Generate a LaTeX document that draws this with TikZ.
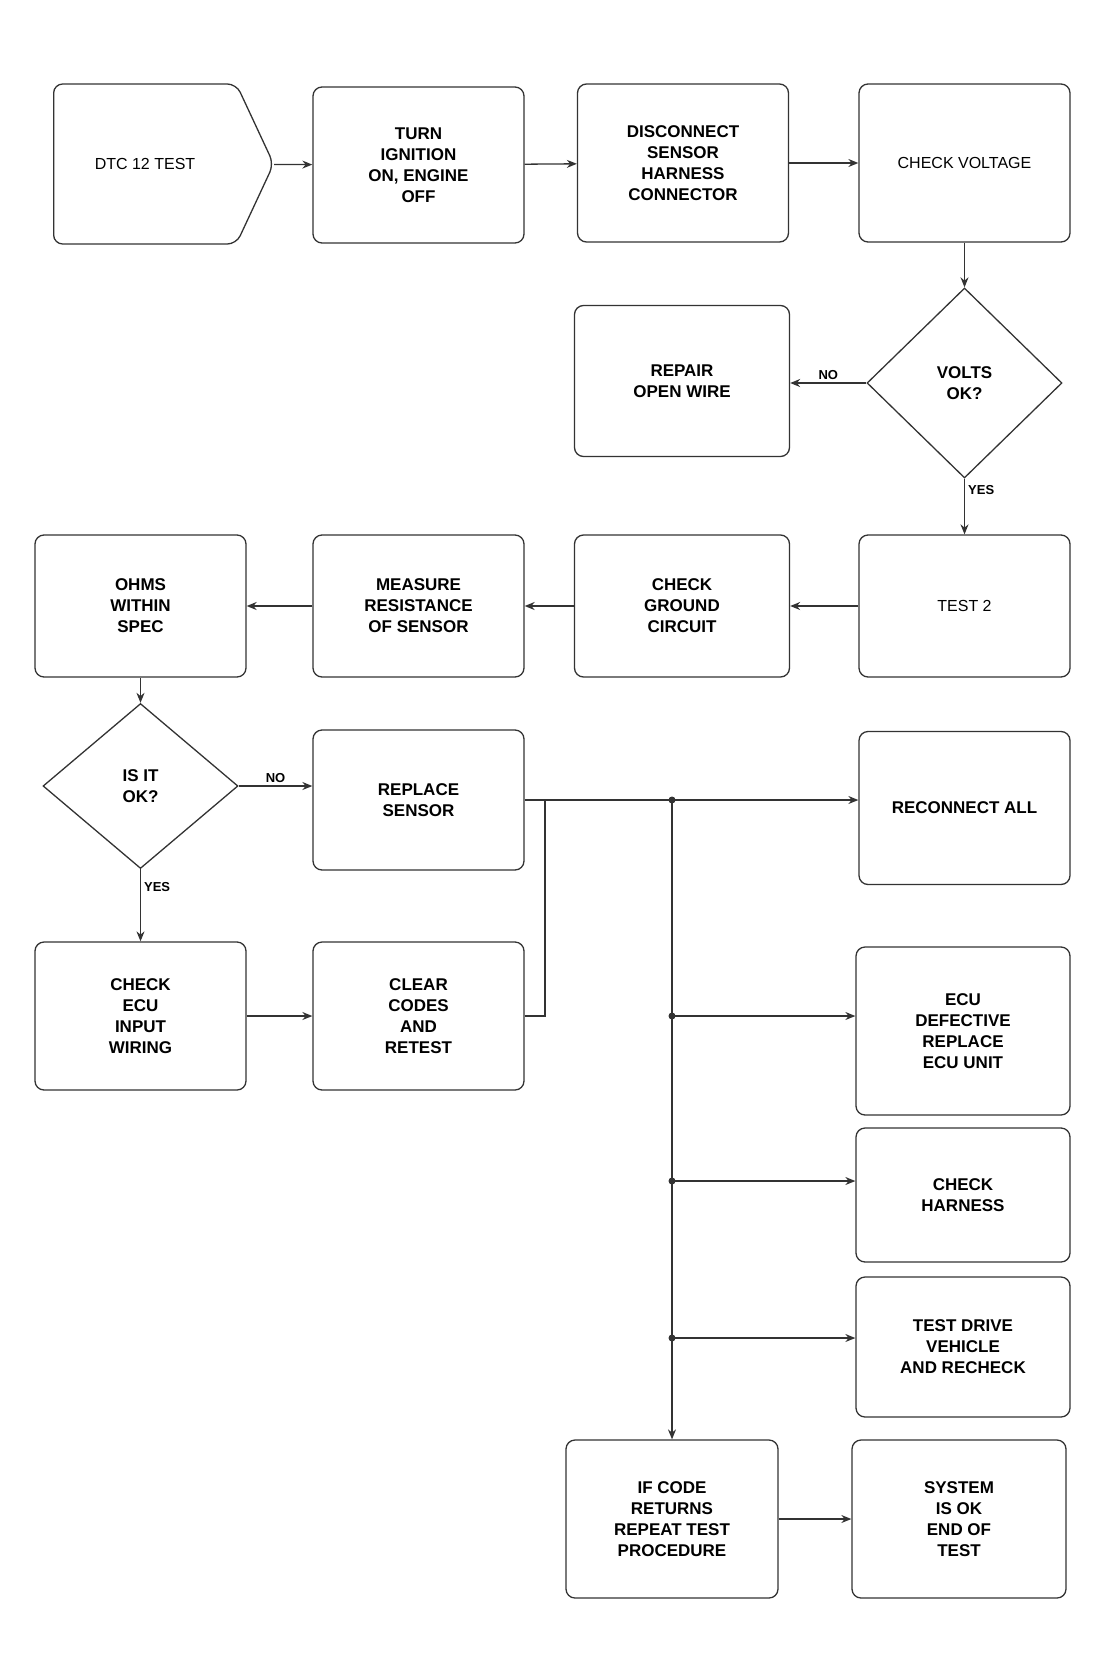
\documentclass[tikz,border=0pt]{standalone}
\usepackage{fontspec}
\setmainfont{Liberation Sans}
\usetikzlibrary{shapes.geometric,shapes.symbols,arrows.meta}
\tikzset{
  ln/.style={draw=black!80, line width=1.3pt},
  box/.style={ln, rounded corners=9pt, align=center, fill=white,
    font=\bfseries\fontsize{17}{21}\selectfont, inner sep=4pt,
    minimum width=211pt, minimum height=150pt},
  startbox/.style={ln, signal, signal to=east, signal pointer angle=130,
    rounded corners=9pt, align=center, fill=white, font=\fontsize{16}{19}\selectfont,
    minimum width=220pt, minimum height=160pt, inner sep=4pt},
  dia/.style={ln, diamond, align=center, fill=white, inner sep=0pt,
    font=\bfseries\fontsize{17}{21}\selectfont},
  conn/.style={ln, -{Stealth[length=10pt,width=8pt]}},
  lbl/.style={font=\bfseries\fontsize{13}{15}\selectfont, inner sep=3pt},
  jdot/.style={circle, fill=black!80, inner sep=0pt, minimum size=7pt}
}
\begin{document}
\begin{tikzpicture}[x=1pt,y=-1pt]
\useasboundingbox (0,0) rectangle (1101,1670);

% row 1
\node[startbox] (b1) at (145,164) {DTC 12 TEST};
\node[box, minimum height=156pt] (b2) at (418.5,165) {TURN\\IGNITION\\ON, ENGINE\\OFF};
\node[box, minimum height=158pt] (b3) at (683,163) {DISCONNECT\\SENSOR\\HARNESS\\CONNECTOR};
\node[box, minimum height=158pt, font=\fontsize{16}{19}\selectfont] (b4) at (964.5,163) {CHECK VOLTAGE};

% diamond 1 and box 5
\node[dia, minimum width=195pt, minimum height=190pt] (d1) at (964.5,383) {VOLTS\\OK?};
\node[box, minimum width=215pt, minimum height=151pt] (b5) at (682,381) {REPAIR\\OPEN WIRE};

% row 3
\node[box, minimum height=142pt] (r3c1) at (140.5,606) {OHMS\\WITHIN\\SPEC};
\node[box, minimum height=142pt] (r3c2) at (418.5,606) {MEASURE\\RESISTANCE\\OF SENSOR};
\node[box, minimum width=215pt, minimum height=142pt] (r3c3) at (682,606) {CHECK\\GROUND\\CIRCUIT};
\node[box, minimum height=142pt, font=\fontsize{16}{19}\selectfont] (r3c4) at (964.5,606) {TEST 2};

% diamond 2 and box 9
\node[dia, minimum width=195pt, minimum height=165pt] (d2) at (140.5,786) {IS IT\\OK?};
\node[box, minimum height=140pt] (b9) at (418.5,800) {REPLACE\\SENSOR};
\node[box, minimum height=153pt] (b12) at (964.5,808) {RECONNECT ALL};

% row 5
\node[box, minimum height=148pt] (b10) at (140.5,1016) {CHECK\\ECU\\INPUT\\WIRING};
\node[box, minimum height=148pt] (b11) at (418.5,1016) {CLEAR\\CODES\\AND\\RETEST};

% right column
\node[box, minimum width=214pt, minimum height=168pt] (b13) at (963,1031) {ECU\\DEFECTIVE\\REPLACE\\ECU UNIT};
\node[box, minimum width=214pt, minimum height=134pt] (b14) at (963,1195) {CHECK\\HARNESS};
\node[box, minimum width=214pt, minimum height=140pt] (b15) at (963,1347) {TEST DRIVE\\VEHICLE\\AND RECHECK};

% bottom row
\node[box, minimum width=212pt, minimum height=158pt] (b16) at (672,1519) {IF CODE\\RETURNS\\REPEAT TEST\\PROCEDURE};
\node[box, minimum width=214pt, minimum height=158pt] (b17) at (959,1519) {SYSTEM\\IS OK\\END OF\\TEST};

% junction coordinates
\coordinate (j0) at (545,800);
\coordinate (j1) at (672,800);
\coordinate (k1) at (672,1016);
\coordinate (k2) at (672,1181);
\coordinate (k3) at (672,1338);

% connectors
\draw[conn] (b1) -- (b2);
\draw[conn] (b2) -- (b3);
\draw[conn] (b3) -- (b4);
\draw[conn] (b4) -- (d1);
\draw[conn] (d1.west) -- node[lbl, above]{NO} (d1.west -| b5.east);
\draw[conn] (d1) -- node[lbl, right, pos=0.2]{YES} (r3c4);
\draw[conn] (r3c4) -- (r3c3);
\draw[conn] (r3c3) -- (r3c2);
\draw[conn] (r3c2) -- (r3c1);
\draw[conn] (r3c1) -- (d2);
\draw[conn] (d2.east) -- node[lbl, above]{NO} (d2.east -| b9.west);
\draw[conn] (d2) -- node[lbl, right, pos=0.25]{YES} (b10);
\draw[conn] (b10) -- (b11);
\draw[ln] (b9.east) -- (j0);
\draw[ln] (b11.east) -| (j0);
\draw[conn] (j0) -- (j0 -| b12.west);
\draw[conn] (j1) -- (b16.north);
\draw[conn] (k1) -- (k1 -| b13.west);
\draw[conn] (k2) -- (k2 -| b14.west);
\draw[conn] (k3) -- (k3 -| b15.west);
\draw[conn] (b16) -- (b17);
\node[jdot] (dj1) at (j1) {};
\node[jdot] (dk1) at (k1) {};
\node[jdot] (dk2) at (k2) {};
\node[jdot] (dk3) at (k3) {};
\end{tikzpicture}
\end{document}
